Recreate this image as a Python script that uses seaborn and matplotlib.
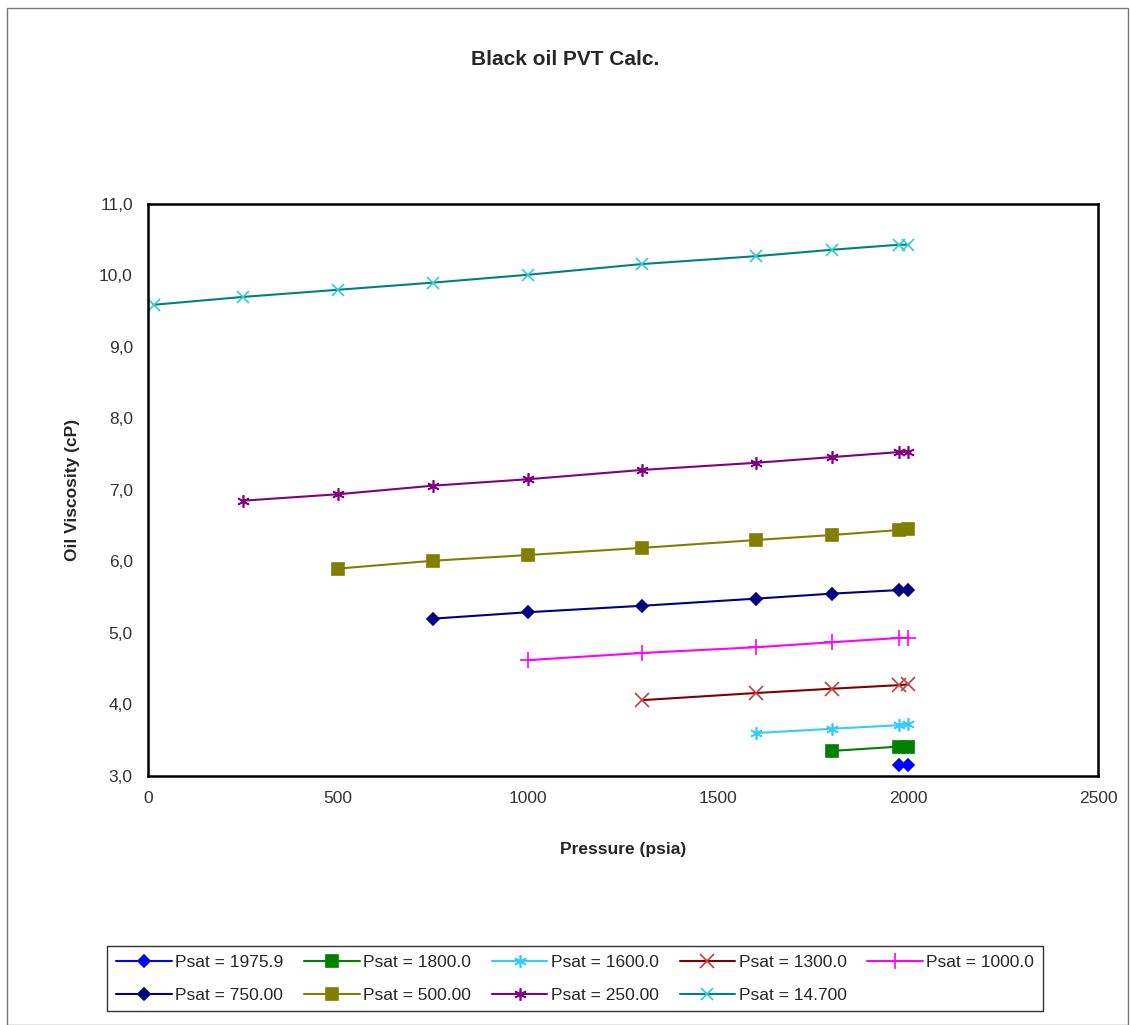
import pandas as pd
import numpy as np
import matplotlib
matplotlib.use('Agg')
import matplotlib.pyplot as plt
import seaborn as sns
from matplotlib.ticker import FuncFormatter
from matplotlib.patches import Rectangle

# Pressure points (psia) and viscosity (cP) per saturation pressure
pressure = [14.7, 250, 500, 750, 1000, 1300, 1600, 1800, 1975.9, 2000]

visc_1975 = [3.15, 3.15]
visc_1800 = [3.35, 3.41, 3.41]
visc_1600 = [3.60, 3.66, 3.71, 3.72]
visc_1300 = [4.06, 4.16, 4.22, 4.27, 4.28]
visc_1000 = [4.62, 4.72, 4.80, 4.87, 4.93, 4.93]
visc_750 = [5.20, 5.29, 5.38, 5.48, 5.55, 5.60, 5.60]
visc_500 = [5.90, 6.01, 6.09, 6.19, 6.30, 6.37, 6.44, 6.45]
visc_250 = [6.85, 6.94, 7.06, 7.15, 7.28, 7.38, 7.46, 7.53, 7.53]
visc_14 = [9.59, 9.70, 9.80, 9.90, 10.01, 10.16, 10.27, 10.36, 10.43, 10.43]

labels = ['Psat = 1975.9', 'Psat = 1800.0', 'Psat = 1600.0', 'Psat = 1300.0',
          'Psat = 1000.0', 'Psat = 750.00', 'Psat = 500.00', 'Psat = 250.00',
          'Psat = 14.700']
series = [visc_1975, visc_1800, visc_1600, visc_1300, visc_1000,
          visc_750, visc_500, visc_250, visc_14]
colors = ['#0000ff', '#008000', '#33ccff', '#800000', '#ff00ff',
          '#000080', '#808000', '#800080', '#008080']
mcolors = ['#0000ff', '#008000', '#33ccff', '#c04040', '#ff00ff',
           '#000080', '#808000', '#800080', '#33cccc']
markers = ['D', 's', (6, 2, 0), 'x', '+', 'D', 's', (6, 2, 0), 'x']
msizes = [6, 8, 9, 10, 12, 6, 8, 9, 9]

rows = []
for lab, vals in zip(labels, series):
    p = pressure[-len(vals):]
    for x, v in zip(p, vals):
        rows.append({'Psat': lab, 'Pressure': x, 'Viscosity': v})
df = pd.DataFrame(rows)

sns.set_style('white')
plt.rcParams['font.family'] = ['Liberation Sans', 'DejaVu Sans']

fig = plt.figure(figsize=(11.3, 10.25), dpi=100)
ax = fig.add_axes([0.131, 0.243, 0.841, 0.558])

for lab, c, mc, m, ms in zip(labels, colors, mcolors, markers, msizes):
    d = df[df['Psat'] == lab]
    sns.lineplot(data=d, x='Pressure', y='Viscosity', ax=ax, color=c,
                 marker=m, markersize=ms, markerfacecolor=mc,
                 markeredgecolor=mc, markeredgewidth=1.2, linewidth=1.5,
                 label=lab, legend=False, sort=False)

ax.set_xlim(0, 2500)
ax.set_ylim(3.0, 11.0)
ax.set_xticks(np.arange(0, 2501, 500))
ax.set_yticks(np.arange(3, 11.01, 1))
ax.yaxis.set_major_formatter(FuncFormatter(lambda v, _: f'{v:.1f}'.replace('.', ',')))
ax.tick_params(direction='inout', length=8, width=1.2, labelsize=12.5,
               colors='black', labelcolor='#333333', pad=7)
for s in ax.spines.values():
    s.set_color('black')
    s.set_linewidth(1.8)

ax.set_xlabel('Pressure (psia)', fontsize=12.5, fontweight='bold', labelpad=26)
ax.set_ylabel('Oil Viscosity (cP)', fontsize=12.5, fontweight='bold', labelpad=14)
fig.text(0.5, 0.942, 'Black oil PVT Calc.', ha='center', va='center',
         fontsize=15, fontweight='bold')

# legend fills column-wise, reorder so rows read in series order
handles, labs = ax.get_legend_handles_labels()
order = [0, 5, 1, 6, 2, 7, 3, 8, 4]
leg = fig.legend([handles[i] for i in order], [labs[i] for i in order],
                 loc='center', ncol=5,
                 bbox_to_anchor=(0.509, 0.045), fontsize=12.5, frameon=True,
                 fancybox=False, edgecolor='black', handlelength=3.2,
                 handletextpad=0.2, columnspacing=1.2, borderpad=0.5,
                 labelspacing=1.0)
leg.get_frame().set_linewidth(1.0)

fig.patches.append(Rectangle((0.006, 0.0), 0.992, 0.992, transform=fig.transFigure,
                             fill=False, edgecolor='#777777', linewidth=1.0))

fig.savefig('out.png', dpi=100, facecolor='white')
